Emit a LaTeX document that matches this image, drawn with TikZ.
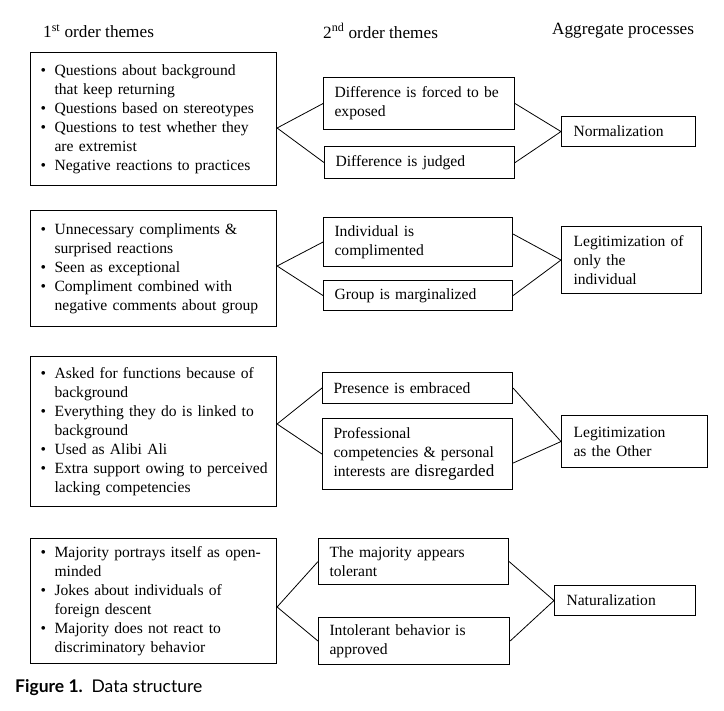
\documentclass[tikz,border=0pt]{standalone}
\usepackage{fontspec}
\setmainfont{Liberation Serif}
\newfontfamily\capfont{Lato}
\usetikzlibrary{calc}
\newcommand{\bu}{\hspace*{10pt}\makebox[14pt][l]{\textbullet}}
\newcommand{\hi}{\hspace*{24pt}}
\tikzset{
  box/.style={draw=black, line width=1.1pt, anchor=north west, inner ysep=0pt, align=left,
    font=\fontsize{15.6}{19}\selectfont},
  lbox/.style={box, inner xsep=0pt, text width=246pt, minimum width=246pt},
  sbox/.style={box, inner xsep=11pt},
  abox/.style={box, inner xsep=12pt},
  head/.style={anchor=west, inner sep=0pt, font=\fontsize{17.2}{20}\selectfont},
  conn/.style={draw=black, line width=0.8pt},
}
\begin{document}
\begin{tikzpicture}[x=1pt,y=-1pt]
\useasboundingbox (0,0) rectangle (724,711);
% headers
\node[head] (h1) at (43,31) {1\textsuperscript{st} order themes};
\node[head] (h2) at (323,31) {2\textsuperscript{nd} order themes};
\node[head] (h3) at (552,31) {Aggregate processes};
% group 1
\node[lbox, minimum height=133pt] (L1) at (30,52) {\bu Questions about background\\\hi that keep returning\\\bu Questions based on stereotypes\\\bu Questions to test whether they\\\hi are extremist\\\bu Negative reactions to practices};
\node[sbox, text width=169pt, minimum height=52pt] (S1a) at (323,77) {Difference is forced to be\\exposed};
\node[sbox, text width=168pt, minimum height=32pt] (S1b) at (324,146) {Difference is judged};
\node[abox, text width=110pt, minimum height=30pt] (A1) at (561,116) {Normalization};
% group 2
\node[lbox, minimum height=116pt] (L2) at (30,210) {\bu Unnecessary compliments \&\\\hi surprised reactions\\\bu Seen as exceptional\\\bu Compliment combined with\\\hi negative comments about group};
\node[sbox, text width=167pt, minimum height=49pt] (S2a) at (323,217) {Individual is\\complimented};
\node[sbox, text width=167pt, minimum height=30pt] (S2b) at (323,280) {Group is marginalized};
\node[abox, text width=116pt, minimum height=67pt] (A2) at (561,226) {Legitimization of\\only the\\individual};
% group 3
\node[lbox, minimum height=150pt] (L3) at (30,356) {\bu Asked for functions because of\\\hi background\\\bu Everything they do is linked to\\\hi background\\\bu Used as Alibi Ali\\\bu Extra support owing to perceived\\\hi lacking competencies};
\node[sbox, text width=168pt, minimum height=31pt] (S3a) at (322,372) {Presence is embraced};
\node[sbox, text width=168pt, minimum height=71pt] (S3b) at (322,418) {Professional\\competencies \& personal\\interests are {\fontsize{17}{19}\selectfont disregarded}};
\node[abox, text width=122pt, minimum height=52pt] (A3) at (561,415) {Legitimization\\as the Other};
% group 4
\node[lbox, minimum height=125pt] (L4) at (30,538) {\bu Majority portrays itself as open-\\\hi minded\\\bu Jokes about individuals of\\\hi foreign descent\\\bu Majority does not react to\\\hi discriminatory behavior};
\node[sbox, text width=168pt, minimum height=46pt] (S4a) at (318,538) {The majority appears\\tolerant};
\node[sbox, text width=169pt, minimum height=47pt] (S4b) at (318,617) {Intolerant behavior is\\approved};
\node[abox, text width=117pt, minimum height=30pt] (A4) at (554,585) {Naturalization};
% vertices
\coordinate (v1) at (L1.east |- 0,128);
\coordinate (v2) at (L2.east |- 0,266);
\coordinate (v3) at (L3.east |- 0,424);
\coordinate (v4) at (L4.east |- 0,607);
% connectors
\draw[conn] (S1a.west) -- (v1) -- (S1b.west);
\draw[conn] (S1a.east) -- (A1.west) -- (S1b.east);
\draw[conn] (S2a.west) -- (v2) -- (S2b.west);
\draw[conn] ([yshift=8pt]S2a.east) -- (A2.west) -- (S2b.east);
\draw[conn] (S3a.west) -- (v3) -- (S3b.west);
\draw[conn] (S3a.east) -- (A3.west) -- ([yshift=-9pt]S3b.east);
\draw[conn] (S4a.west) -- (v4) -- (S4b.west);
\draw[conn] (S4a.east) -- (A4.west) -- (S4b.east);
% caption
\node[anchor=west, inner sep=0pt, font=\capfont\fontsize{17.5}{20}\selectfont] (cap) at (15,688) {\textbf{Figure 1.}\enspace Data structure};
\end{tikzpicture}
\end{document}
